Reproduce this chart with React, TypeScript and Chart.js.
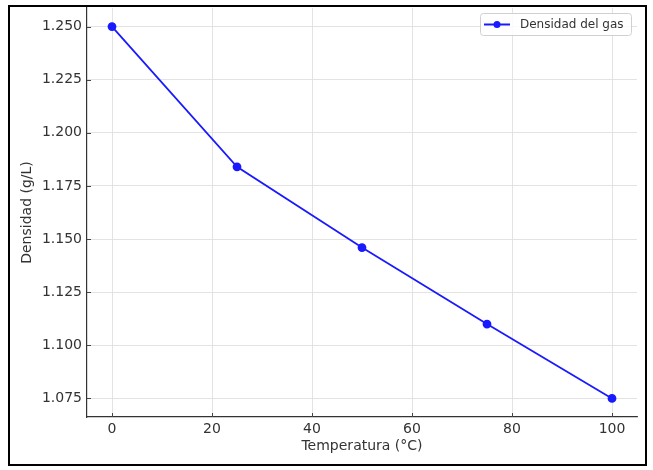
import { useEffect, useRef } from 'react';
import { Chart, registerables } from 'chart.js';
Chart.register(...registerables);

const temperaturas = [0, 25, 50, 75, 100];
const densidades = [1.25, 1.184, 1.146, 1.11, 1.075];
const ticksX = [0, 20, 40, 60, 80, 100];
const ticksY = [1.075, 1.1, 1.125, 1.15, 1.175, 1.2, 1.225, 1.25];
const serie = 'Densidad del gas';

const FONT = "'DejaVu Sans', sans-serif";
const AZUL = '#1a1aff';

// marcas de tick hacia dentro, como en matplotlib
const ticksDentro = {
  id: 'ticksDentro',
  afterDraw(chart: any) {
    const { ctx, chartArea, scales } = chart;
    ctx.save();
    ctx.strokeStyle = '#444';
    ctx.lineWidth = 1;
    ctx.beginPath();
    ticksX.forEach((v) => {
      const px = Math.round(scales.x.getPixelForValue(v)) + 0.5;
      ctx.moveTo(px, chartArea.bottom);
      ctx.lineTo(px, chartArea.bottom - 4);
    });
    ticksY.forEach((v) => {
      const py = Math.round(scales.y.getPixelForValue(v)) + 0.5;
      ctx.moveTo(chartArea.left, py);
      ctx.lineTo(chartArea.left + 4, py);
    });
    ctx.stroke();
    ctx.restore();
  },
};

// leyenda con línea y marcador, arriba a la derecha
const leyenda = {
  id: 'leyenda',
  afterDraw(chart: any) {
    const { ctx, chartArea } = chart;
    const w = 151;
    const h = 22;
    const x = chartArea.right - 6 - w;
    const y = chartArea.top + 5;
    ctx.save();
    ctx.fillStyle = 'rgba(255,255,255,0.85)';
    ctx.strokeStyle = '#d0d0d0';
    ctx.lineWidth = 1;
    ctx.beginPath();
    ctx.roundRect(x + 0.5, y + 0.5, w, h, 3);
    ctx.fill();
    ctx.stroke();
    const cy = y + h / 2 + 0.5;
    ctx.strokeStyle = AZUL;
    ctx.lineWidth = 2;
    ctx.beginPath();
    ctx.moveTo(x + 4, cy);
    ctx.lineTo(x + 30, cy);
    ctx.stroke();
    ctx.fillStyle = AZUL;
    ctx.beginPath();
    ctx.arc(x + 17, cy, 3.5, 0, Math.PI * 2);
    ctx.fill();
    ctx.fillStyle = '#333';
    ctx.font = `12px ${FONT}`;
    ctx.textBaseline = 'middle';
    ctx.fillText(serie, x + 40, cy);
    ctx.restore();
  },
};

export default function App() {
  const ref = useRef<HTMLCanvasElement>(null);

  useEffect(() => {
    const grid = {
      color: '#dcdcdc',
      lineWidth: 0.8,
      drawTicks: false,
      tickLength: 0,
    };
    const chart = new Chart(ref.current!, {
      type: 'line',
      data: {
        datasets: [
          {
            label: serie,
            data: temperaturas.map((t, i) => ({ x: t, y: densidades[i] })),
            borderColor: AZUL,
            backgroundColor: AZUL,
            pointBackgroundColor: AZUL,
            pointBorderColor: AZUL,
            pointRadius: 3.5,
            borderWidth: 1.8,
            tension: 0,
          },
        ],
      },
      options: {
        animation: false,
        responsive: true,
        maintainAspectRatio: false,
        layout: { autoPadding: false, padding: { top: 1, right: 8, left: 0, bottom: 0 } },
        plugins: { legend: { display: false }, tooltip: { enabled: false } },
        scales: {
          x: {
            type: 'linear',
            min: -5,
            max: 105,
            afterBuildTicks: (s: any) => { s.ticks = ticksX.map((v) => ({ value: v })); },
            afterFit: (s: any) => {
              s.height = 47;
              s.paddingLeft = 0;
              s.paddingRight = 0;
            },
            ticks: { color: '#333', padding: 4, maxRotation: 0, font: { size: 14, family: FONT } },
            grid: grid as any,
            border: { color: '#333', width: 1.2 },
            title: {
              display: true,
              text: 'Temperatura (°C)',
              color: '#333',
              padding: { top: 0, bottom: 9 },
              font: { size: 14, family: FONT },
            },
          },
          y: {
            type: 'linear',
            min: 1.06625,
            max: 1.25875,
            afterBuildTicks: (s: any) => { s.ticks = ticksY.map((v) => ({ value: v })); },
            afterFit: (s: any) => {
              s.width = 77;
              s.paddingTop = 0;
              s.paddingBottom = 0;
            },
            ticks: {
              color: '#333',
              padding: 5,
              font: { size: 14, family: FONT },
              callback: (v: any) => Number(v).toFixed(3),
            },
            grid: grid as any,
            border: { color: '#333', width: 1.2 },
            title: {
              display: true,
              text: 'Densidad (g/L)',
              color: '#333',
              padding: { top: 9, bottom: 0 },
              font: { size: 14, family: FONT },
            },
          },
        },
      },
      plugins: [ticksDentro, leyenda],
    });
    return () => { chart.destroy(); };
  }, []);

  return (
    <div
      style={{
        position: 'absolute',
        left: 8,
        top: 5,
        width: 639,
        height: 461,
        border: '2px solid #000',
        boxSizing: 'border-box',
        background: '#fff',
      }}
    >
      <div style={{ position: 'relative', width: '100%', height: '100%' }}>
        <canvas ref={ref} />
      </div>
    </div>
  );
}
